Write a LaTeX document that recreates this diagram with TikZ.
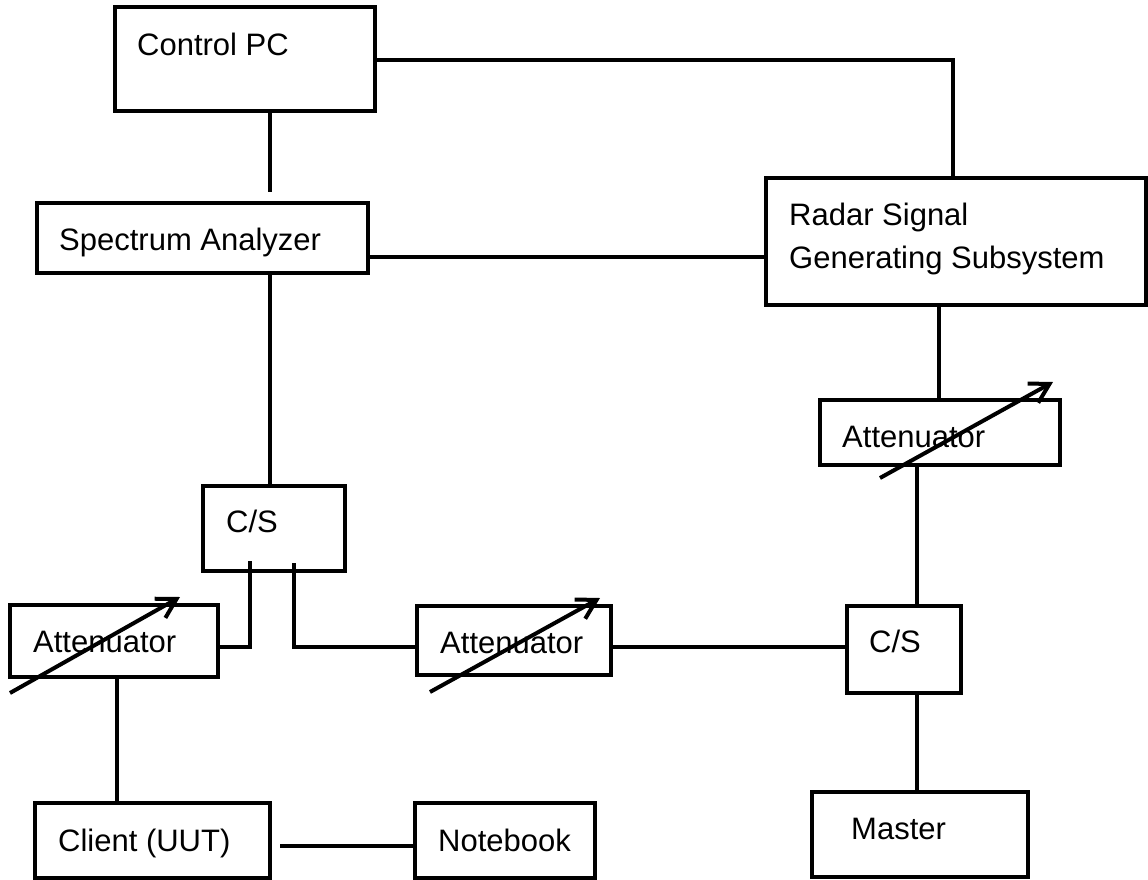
\documentclass[tikz,border=0pt]{standalone}
\usepackage{fontspec}
\setmainfont{Liberation Sans}
\usetikzlibrary{arrows.meta}
\begin{document}
\begin{tikzpicture}[x=1pt,y=-1pt,
  box/.style={draw,line width=4pt,inner sep=0pt,fill=white},
  lbl/.style={inner sep=0pt,anchor=base west,font=\fontsize{31}{37}\selectfont},
  wire/.style={line width=4pt},
  tune/.style={line width=4pt,-{Straight Barb[length=19pt,width=22pt,line width=4pt]}}]
\useasboundingbox (0,0) rectangle (1148,879);
% boxes
\node[box,minimum width=260pt,minimum height=104pt] (cpc) at (245,59) {};
\node[box,minimum width=331pt,minimum height=70pt] (sa) at (202.5,238) {};
\node[box,minimum width=380pt,minimum height=127pt] (rs) at (956,241.5) {};
\node[box,minimum width=240pt,minimum height=65pt] (att3) at (940,432.5) {};
\node[box,minimum width=142pt,minimum height=85pt] (cs1) at (274,528.5) {};
\node[box,minimum width=114pt,minimum height=87pt] (cs2) at (904,649.5) {};
\node[box,minimum width=208pt,minimum height=72pt] (att1) at (114,641) {};
\node[box,minimum width=194pt,minimum height=69pt] (att2) at (514,640.5) {};
\node[box,minimum width=235pt,minimum height=75pt] (cl) at (152.5,840.5) {};
\node[box,minimum width=180pt,minimum height=75pt] (nb) at (505,840.5) {};
\node[box,minimum width=216pt,minimum height=85pt] (ms) at (920,834.5) {};
% labels
\node[lbl] (tcpc) at (137,55) {Control PC};
\node[lbl] (tsa) at (59,250) {Spectrum Analyzer};
\node[lbl] (trs1) at (789,225) {Radar Signal};
\node[lbl] (trs2) at (789,268) {Generating Subsystem};
\node[lbl] (tatt3) at (842,447) {Attenuator};
\node[lbl] (tcs2) at (869,652) {C/S};
\node[lbl] (tms) at (851,839) {Master};
\node[lbl] (tcs1) at (226,532) {C/S};
\node[lbl] (tatt1) at (33,652) {Attenuator};
\node[lbl] (tatt2) at (440,653) {Attenuator};
\node[lbl] (tcl) at (58,851) {Client (UUT)};
\node[lbl] (tnb) at (438,851) {Notebook};
% helper coordinates
\coordinate (c1) at (270,192);
\coordinate (k1) at (953,60);
\coordinate (k2) at (0,257);
\coordinate (k3) at (939,0);
\coordinate (k4) at (917,0);
\coordinate (a1) at (250,561);
\coordinate (a2) at (294,563);
\coordinate (k5) at (0,647);
\coordinate (k6) at (117,0);
\coordinate (n1) at (280,846);
% connectors
\draw[wire] (c1 |- cpc.south) -- (c1);
\draw[wire] (k1 -| cpc.east) -- (k1) -- (k1 |- rs.north);
\draw[wire] (sa.east |- k2) -- (rs.west |- k2);
\draw[wire] (c1 |- sa.south) -- (c1 |- cs1.north);
\draw[wire] (k3 |- rs.south) -- (k3 |- att3.north);
\draw[wire] (k4 |- att3.south) -- (k4 |- cs2.north);
\draw[wire] (k4 |- cs2.south) -- (k4 |- ms.north);
\draw[wire] (a1) -- (a1 |- k5) -- (att1.east |- k5);
\draw[wire] (a2) -- (a2 |- k5) -- (att2.west |- k5);
\draw[wire] (att2.east |- k5) -- (cs2.west |- k5);
\draw[wire] (k6 |- att1.south) -- (k6 |- cl.north);
\draw[wire] (n1) -- (nb.west |- n1);
% variable attenuator arrows
\draw[tune] (10,693) -- (180,597);
\draw[tune] (430,692) -- (600,598);
\draw[tune] (880,478) -- (1053,382);
\end{tikzpicture}
\end{document}
